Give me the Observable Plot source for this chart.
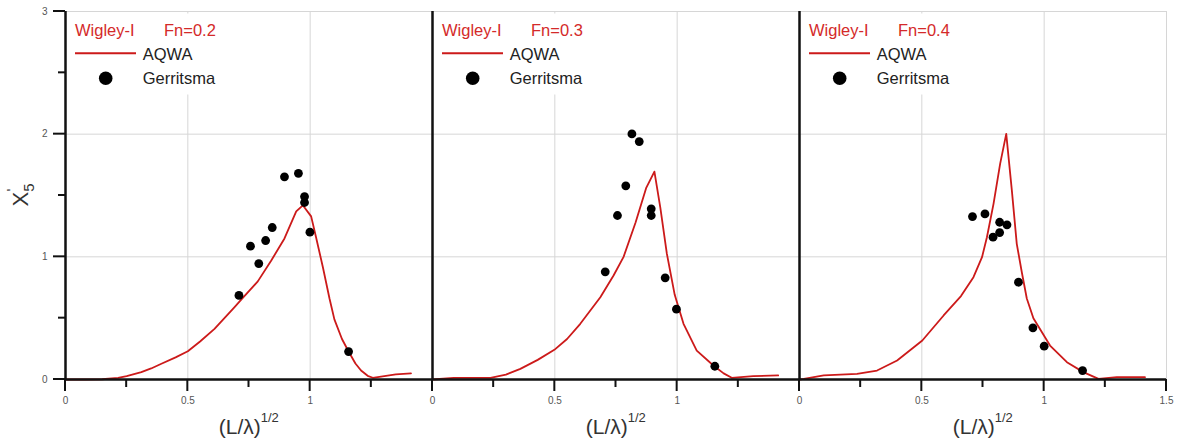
<!DOCTYPE html>
<html>
<head>
<meta charset="utf-8">
<script src="https://cdn.jsdelivr.net/npm/d3@7"></script>
<script src="https://cdn.jsdelivr.net/npm/@observablehq/plot@0.6"></script>
<style>
  body { margin: 0; background: #fff; }
  #chart svg { display: block; }
</style>
</head>
<body>
<div id="chart"></div>
<script>
// Froude numbers, one panel each
const panels = ["0.2", "0.3", "0.4"];

// AQWA pitch RAO curves: [sqrt(L/lambda), X5']
const aqwaFn02 = [[0,0],[0.08,0],[0.15,0.002],[0.215,0.014],[0.25,0.028],[0.31,0.06],[0.35,0.09],[0.392,0.128],[0.45,0.18],[0.5,0.23],[0.55,0.31],[0.609,0.413],[0.691,0.59],[0.72,0.655],[0.786,0.8],[0.841,0.97],[0.895,1.15],[0.943,1.37],[0.97,1.42],[1.004,1.33],[1.024,1.16],[1.052,0.915],[1.079,0.66],[1.099,0.49],[1.13,0.33],[1.157,0.228],[1.185,0.13],[1.208,0.073],[1.235,0.03],[1.256,0.014],[1.303,0.027],[1.35,0.042],[1.412,0.05]];
const aqwaFn03 = [[0,0],[0.087,0.014],[0.237,0.014],[0.3,0.04],[0.359,0.087],[0.43,0.16],[0.498,0.242],[0.55,0.33],[0.604,0.454],[0.686,0.67],[0.74,0.848],[0.781,1.0],[0.83,1.28],[0.873,1.56],[0.907,1.695],[0.931,1.404],[0.958,1.024],[0.99,0.69],[1.026,0.454],[1.08,0.236],[1.148,0.114],[1.19,0.05],[1.223,0.014],[1.311,0.027],[1.413,0.033]];
const aqwaFn04 = [[0,0],[0.018,0.005],[0.099,0.033],[0.235,0.046],[0.317,0.073],[0.399,0.155],[0.502,0.318],[0.589,0.522],[0.66,0.68],[0.711,0.834],[0.746,0.997],[0.766,1.16],[0.793,1.432],[0.82,1.758],[0.845,2.002],[0.868,1.54],[0.888,1.106],[0.909,0.87],[0.929,0.66],[0.956,0.5],[1.024,0.277],[1.093,0.141],[1.16,0.06],[1.222,0.005],[1.297,0.019],[1.412,0.019]];

// Gerritsma experiments
const gerritsmaFn02 = [[0.709,0.685],[0.756,1.087],[0.79,0.945],[0.818,1.133],[0.845,1.239],[0.895,1.652],[0.952,1.681],[0.977,1.491],[0.977,1.443],[0.999,1.201],[1.157,0.228]];
const gerritsmaFn03 = [[0.706,0.878],[0.756,1.337],[0.79,1.579],[0.815,2.002],[0.845,1.94],[0.894,1.391],[0.894,1.337],[0.951,0.829],[0.997,0.573],[1.154,0.108]];
const gerritsmaFn04 = [[0.707,1.328],[0.758,1.35],[0.791,1.16],[0.818,1.282],[0.818,1.198],[0.848,1.261],[0.895,0.793],[0.954,0.421],[1.0,0.272],[1.157,0.073]];

// Axis ticks
const xMajorTicks = [0, 0.5, 1, 1.5];
const xMinorTicks = [0.25, 0.75, 1.25];
const xLabelTicks = [0, 0.5, 1];
const xLastLabelTicks = [1.5];
const yMajorTicks = [0, 1, 2, 3];
const yMinorTicks = [0.5, 1.5, 2.5];
const xGridTicks = [0.5, 1, 1.5];
const yGridTicks = [1, 2, 3];

const shipName = "Wigley-I";
const modelName = "AQWA";
const expName = "Gerritsma";

// Long tables for the faceted marks
const curveSets = [aqwaFn02, aqwaFn03, aqwaFn04];
const pointSets = [gerritsmaFn02, gerritsmaFn03, gerritsmaFn04];
const curveRows = panels.flatMap((p, i) => curveSets[i].map(([x, y]) => ({panel: p, x, y})));
const pointRows = panels.flatMap((p, i) => pointSets[i].map(([x, y]) => ({panel: p, x, y})));
const xLabelRows = panels.flatMap((p, i) =>
  (i === panels.length - 1 ? xLabelTicks.concat(xLastLabelTicks) : xLabelTicks).map(v => ({panel: p, v})));
const yLabelRows = yMajorTicks.map(v => ({panel: panels[0], v}));

const W = 1187, H = 443;
const ML = 64, MR = 20, MT = 11, MB = 64;
const band = (W - ML - MR) / panels.length;
const red = "#cc1a1a";
const redText = "#d42a2a";
const ink = "#111";
const font = "'Liberation Sans', Arial, sans-serif";

const plot = Plot.plot({
  width: W, height: H,
  marginLeft: ML, marginRight: MR, marginTop: MT, marginBottom: MB,
  style: {fontFamily: font, fontSize: "10px", background: "white", overflow: "visible"},
  fx: {domain: panels, padding: 0, axis: null},
  x: {domain: [0, 1.5], axis: null},
  y: {domain: [0, 3], axis: null},
  marks: [
    Plot.gridX({ticks: xGridTicks, stroke: "#d6d6d6", strokeOpacity: 1, strokeWidth: 1}),
    Plot.gridY({ticks: yGridTicks, stroke: "#d6d6d6", strokeOpacity: 1, strokeWidth: 1}),
    Plot.line(curveRows, {x: "x", y: "y", fx: "panel", stroke: red, strokeWidth: 1.8}),
    Plot.dot(pointRows, {x: "x", y: "y", fx: "panel", r: 4.4, fill: "#000"}),
    Plot.ruleY([0], {stroke: ink, strokeWidth: 2.5}),
    Plot.ruleX([0], {stroke: ink, strokeWidth: 2.5}),
    Plot.text(xLabelRows, {x: "v", fx: "panel", text: d => String(d.v), frameAnchor: "bottom", dy: 24, fill: "#555", fontSize: 10}),
    Plot.text(yLabelRows, {y: "v", fx: "panel", text: d => String(d.v), frameAnchor: "left", dx: -18, textAnchor: "end", fill: "#555", fontSize: 10})
  ]
});

const svg = d3.select(plot);

// Tick strokes, placed with the plot's own x, y and fx scales
const xS = plot.scale("x"), yS = plot.scale("y");
let fxS = null;
try { fxS = plot.scale("fx"); } catch (e) { fxS = null; }
const facetOffset = (p, i) => {
  const v = fxS ? fxS.apply(p) - ML : NaN;
  return Number.isFinite(v) ? v : i * band;
};
const ticks = svg.append("g").attr("stroke", ink).attr("stroke-width", 2).attr("fill", "none");
const yBase = yS.apply(0);
panels.forEach((p, i) => {
  const off = facetOffset(p, i);
  xMajorTicks.forEach(v => {
    const px = off + xS.apply(v);
    ticks.append("line").attr("x1", px).attr("x2", px).attr("y1", yBase).attr("y2", yBase + 12);
  });
  xMinorTicks.forEach(v => {
    const px = off + xS.apply(v);
    ticks.append("line").attr("x1", px).attr("x2", px).attr("y1", yBase).attr("y2", yBase + 8);
  });
});
const xLeft = facetOffset(panels[0], 0) + xS.apply(0);
yMajorTicks.forEach(v => {
  const py = yS.apply(v);
  ticks.append("line").attr("x1", xLeft - 12).attr("x2", xLeft).attr("y1", py).attr("y2", py);
});
yMinorTicks.forEach(v => {
  const py = yS.apply(v);
  ticks.append("line").attr("x1", xLeft - 7).attr("x2", xLeft).attr("y1", py).attr("y2", py);
});

// Legends and x-axis titles, one per panel
panels.forEach((p, i) => {
  const x0 = facetOffset(p, i) + ML;
  const g = svg.append("g").attr("font-family", font).attr("text-anchor", "start");
  g.append("rect").attr("x", x0 + 2).attr("y", 13.5).attr("width", 153).attr("height", 81).attr("fill", "white");
  g.append("text").attr("x", x0 + 10).attr("y", 36).attr("font-size", 16.5).attr("fill", redText).text(shipName);
  g.append("text").attr("x", x0 + 99).attr("y", 36).attr("font-size", 16.5).attr("fill", redText).text(`Fn=${p}`);
  g.append("line").attr("x1", x0 + 10).attr("x2", x0 + 71).attr("y1", 53.3).attr("y2", 53.3).attr("stroke", red).attr("stroke-width", 2);
  g.append("text").attr("x", x0 + 77.7).attr("y", 60).attr("font-size", 16.5).attr("fill", "#222").text(modelName);
  g.append("circle").attr("cx", x0 + 40.7).attr("cy", 78.3).attr("r", 6.8).attr("fill", "#000");
  g.append("text").attr("x", x0 + 77.7).attr("y", 83.5).attr("font-size", 16.5).attr("fill", "#222").text(expName);

  const t = svg.append("text").attr("font-family", font).attr("x", x0 + band / 2).attr("y", 434)
    .attr("text-anchor", "middle").attr("font-size", 21).attr("fill", "#333");
  t.append("tspan").text("(L/λ)");
  t.append("tspan").attr("font-size", 13).attr("dy", -12).text("1/2");
});

// y-axis title X5'
const yl = svg.append("text").attr("font-family", font)
  .attr("transform", `translate(28,${(MT + H - MB) / 2}) rotate(-90)`)
  .attr("text-anchor", "middle").attr("font-size", 22).attr("fill", "#333");
yl.append("tspan").text("X");
yl.append("tspan").attr("font-size", 15).attr("dy", 6).text("5");
yl.append("tspan").attr("font-size", 15).attr("dx", -8).attr("dy", -17).text("'");

document.getElementById("chart").append(plot);
</script>
</body>
</html>
